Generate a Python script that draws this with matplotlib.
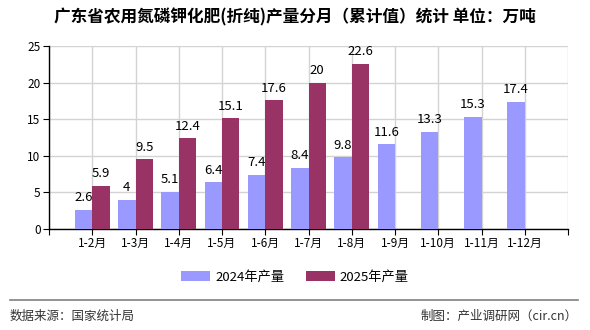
import numpy as np
import matplotlib.pyplot as plt

plt.rcParams['font.family'] = ['Noto Sans CJK SC', 'DejaVu Sans']

months = ['1-2月', '1-3月', '1-4月', '1-5月', '1-6月', '1-7月', '1-8月',
          '1-9月', '1-10月', '1-11月', '1-12月']
v2024 = [2.6, 4, 5.1, 6.4, 7.4, 8.4, 9.8, 11.6, 13.3, 15.3, 17.4]
v2025 = [5.9, 9.5, 12.4, 15.1, 17.6, 20, 22.6]

fig = plt.figure(figsize=(5.9, 3.3), dpi=100)
ax = fig.add_axes([49 / 590, 1 - 229 / 330, 519 / 590, 183 / 330])

x = np.arange(1, len(months) + 1)
w = 0.4
b1 = ax.bar(x[:len(v2024)] - w / 2, v2024, w, color='#9999ff', label='2024年产量', zorder=3)
b2 = ax.bar(x[:len(v2025)] + w / 2, v2025, w, color='#993366', label='2025年产量', zorder=3)

for rects, vals in ((b1, v2024), (b2, v2025)):
    for r, v in zip(rects, vals):
        ax.annotate(f'{v:g}', (r.get_x() + r.get_width() / 2, v),
                    xytext=(0, 4), textcoords='offset points',
                    ha='center', va='bottom', fontsize=9.5, zorder=4)

ax.set_xlim(0, 12)
ax.set_ylim(0, 25)
ax.set_yticks(range(0, 26, 5))
ax.set_xticks(np.arange(0, 13))
ax.set_xticklabels([''] + months + [''])
ax.tick_params(labelsize=8.5, length=4, color='black', pad=2)

ax.grid(True, color='#d3d3d3', linewidth=1, zorder=0)
ax.set_axisbelow(True)
for s in ('top', 'right'):
    ax.spines[s].set_visible(False)
for s in ('left', 'bottom'):
    ax.spines[s].set_color('black')
    ax.spines[s].set_linewidth(1)

fig.text(0.5, 1 - 17 / 330, '广东省农用氮磷钾化肥(折纯)产量分月（累计值）统计 单位：万吨',
         ha='center', va='center', fontsize=12, fontweight='bold')

fig.legend(handles=[b1, b2], loc='center', bbox_to_anchor=(0.5, 1 - 277 / 330),
           ncol=2, frameon=False, fontsize=9.5, handlelength=2.2, handleheight=0.8,
           columnspacing=1.6, handletextpad=0.4)

fig.add_artist(plt.Line2D([10 / 590, 578 / 590], [1 - 300 / 330, 1 - 300 / 330],
                          color='#808080', linewidth=1.2))
fig.text(10 / 590, 1 - 316 / 330, '数据来源：国家统计局', ha='left', va='center',
         fontsize=9, color='#333333')
fig.text(578 / 590, 1 - 316 / 330, '制图：产业调研网（cir.cn）', ha='right', va='center',
         fontsize=9, color='#333333')

fig.savefig('out.png', dpi=100)
